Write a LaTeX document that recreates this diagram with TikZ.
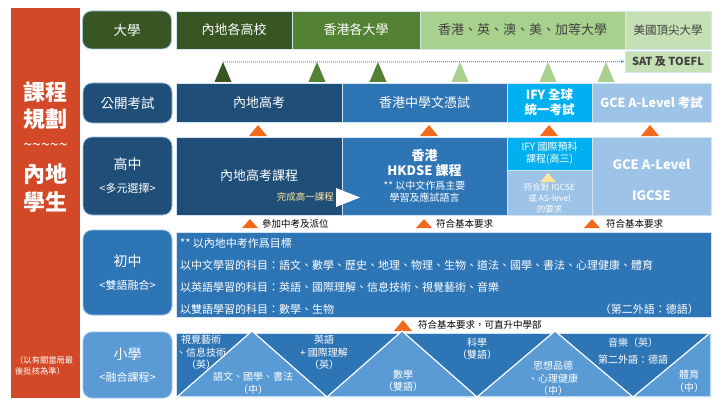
\documentclass[tikz,border=0pt]{standalone}
\usepackage{fontspec}
\setmainfont{Noto Sans CJK TC}
\usepackage{tikz}
\usetikzlibrary{arrows.meta}

\definecolor{redcol}{HTML}{D34826}
\definecolor{dkgreen}{HTML}{375623}
\definecolor{mdgreen}{HTML}{548235}
\definecolor{ltgreen}{HTML}{A9D18E}
\definecolor{palegreen}{HTML}{C5E0B4}
\definecolor{navy}{HTML}{1F4E79}
\definecolor{midblue}{HTML}{2E75B6}
\definecolor{ifycyan}{HTML}{00B0F0}
\definecolor{skyblue}{HTML}{9DC3E6}
\definecolor{primlight}{HTML}{5B9BD5}
\definecolor{markorange}{HTML}{F26B1D}
\definecolor{paleyellow}{HTML}{FFE699}
\definecolor{textgray}{HTML}{404040}

\newcommand{\fsz}[2]{\fontsize{#1}{#2}\selectfont}

\begin{document}
\begin{tikzpicture}[x=1pt, y=-1pt,
    cell/.style={inner sep=0pt, text=white, align=center, draw=white!55!skyblue, line width=0.5pt},
    rowlabel/.style={cell, rounded corners=9pt, draw=skyblue, line width=0.8pt,
                     minimum width=89, font=\fsz{14}{23}},
    celltext/.style={inner sep=0pt, text=white, align=center},
    note/.style={inner sep=0pt, anchor=west, text=black, font=\fsz{9.5}{11}},
    subject/.style={inner sep=0pt, anchor=west, text=white, font=\fsz{11}{13}},
    primtext/.style={inner sep=0pt, text=white, align=center, font=\fsz{10}{12.5}}]

    \useasboundingbox (0,0) rectangle (723,404);

    % side panel
    \node[fill=redcol, minimum width=69, minimum height=390, inner sep=0pt] (side) at (45.5,203) {};
    \node[celltext, font=\fsz{22}{27.5}\bfseries] (sidetop) at (45.5,105.5) {課程\\規劃};
    \node[celltext, font=\fsz{16}{18}] (sidewave) at (45.5,147) {\textasciitilde\textasciitilde\textasciitilde\textasciitilde\textasciitilde};
    \node[celltext, font=\fsz{22}{27.5}\bfseries] (sidebottom) at (45.5,188) {內地\\學生};
    \node[celltext, align=left, anchor=west, font=\fsz{8.3}{11}] (sidenote) at (15,365.5) {（以有關當局最\\後批核為準）};

    % row labels
    \node[rowlabel, fill=dkgreen, minimum height=38, font=\fsz{13.5}{16}] (lbuni) at (127,30) {大學};
    \node[rowlabel, fill=navy, minimum height=40, font=\fsz{13.5}{16}] (lbexam) at (127.5,103) {公開考試};
    \node[rowlabel, fill=navy, minimum height=78] (lbhs) at (127.5,176) {高中\\{\fsz{11}{13}<多元選擇>}};
    \node[rowlabel, fill=midblue, minimum height=85] (lbjr) at (127.5,272.5) {初中\\{\fsz{11}{13}<雙語融合>}};
    \node[rowlabel, fill=primlight, minimum height=66, font=\fsz{14}{22}] (lbpr) at (127.5,365) {小學\\{\fsz{11}{13}<融合課程>}};

    % universities
    \node[cell, fill=dkgreen, minimum width=116, minimum height=38, font=\fsz{13}{16}] (uniml) at (234,30) {內地各高校};
    \node[cell, fill=mdgreen, minimum width=128, minimum height=38, font=\fsz{13}{16}] (unihk) at (356,30) {香港各大學};
    \node[cell, fill=ltgreen, text=textgray, minimum width=205, minimum height=38, font=\fsz{13}{16}] (unios) at (522.5,30) {香港、英、澳、美、加等大學};
    \node[cell, fill=palegreen, text=textgray, minimum width=86, minimum height=38, font=\fsz{11.5}{14}] (unius) at (668,30) {美國頂尖大學};
    \node[cell, fill=palegreen, text=textgray, minimum width=86, minimum height=21, font=\fsz{11}{13}\bfseries] (sat) at (668,61.5) {SAT 及 TOEFL};

    \coordinate (dotstart) at (223,62);
    \draw[primlight, densely dotted, line width=1pt, -{Stealth[length=4pt]}] (dotstart) -- (sat.west);

    \foreach \x/\c in {223/dkgreen, 317/mdgreen, 378/mdgreen, 460/ltgreen, 548/ltgreen, 606/ltgreen}
        \fill[\c] (\x-8.5,82) -- (\x+8.5,82) -- (\x,62) -- cycle;

    % exams
    \node[cell, fill=navy, minimum width=166, minimum height=39, font=\fsz{13}{16}] (exml) at (259,102.5) {內地高考};
    \node[cell, fill=midblue, minimum width=165, minimum height=39, font=\fsz{13}{16}] (exhk) at (424.5,102.5) {香港中學文憑試};
    \node[cell, fill=ifycyan, minimum width=85, minimum height=39, font=\fsz{12.5}{15}\bfseries] (exify) at (549.5,102.5) {IFY 全球\\統一考試};
    \node[cell, fill=skyblue, minimum width=119, minimum height=39, font=\fsz{12.5}{15}\bfseries] (exgce) at (651.5,102.5) {GCE A-Level 考試};

    \foreach \x in {258, 429, 549, 650}
        \fill[markorange] (\x-9,136) -- (\x+9,136) -- (\x,125) -- cycle;

    % senior secondary
    \node[cell, fill=navy, minimum width=166, minimum height=78, font=\fsz{13}{16}] (hsml) at (259,176) {內地高考課程};
    \node[cell, fill=midblue, minimum width=165, minimum height=78] (hshk) at (424.5,176) {};
    \node[celltext, font=\fsz{13}{15}\bfseries] (hshktitle) at (424.5,163.5) {香港\\HKDSE 課程};
    \node[celltext, font=\fsz{10}{11.5}] (hshknote) at (424.5,191.5) {** 以中文作爲主要\\學習及應試語言};
    \node[celltext, anchor=east, text=paleyellow, font=\fsz{9.5}{11}] (hsmlnote) at (334,197) {完成高一課程};
    \fill[white] (336,188) -- (360,197.5) -- (336,207) -- cycle;

    \node[cell, fill=ifycyan, minimum width=85, minimum height=33, font=\fsz{10}{12}] (hsify) at (549.5,153.5) {IFY 國際預科\\課程(高三)};
    \node[cell, fill=skyblue, minimum width=85, minimum height=45] (hsreq) at (549.5,192.5) {};
    \fill[paleyellow] (540,182) -- (556,182) -- (548,173) -- cycle;
    \node[celltext, font=\fsz{8.5}{11}] (hsreqtext) at (549.5,198) {符合對 IGCSE\\或 AS-level\\的要求};
    \node[cell, fill=skyblue, minimum width=119, minimum height=78] (hsgce) at (651.5,176) {};
    \node[celltext, font=\fsz{13}{31}\bfseries] (hsgcetext) at (651.5,179.5) {GCE A-Level\\IGCSE};

    \foreach \x in {250, 424, 592}
        \fill[markorange] (\x-8,228) -- (\x+8,228) -- (\x,219) -- cycle;
    \node[note] (notezk) at (262,224) {參加中考及派位};
    \node[note] (notebasic) at (436,224) {符合基本要求};
    \node[note] (notebasicb) at (606,224) {符合基本要求};

    % junior secondary
    \node[cell, fill=midblue, minimum width=535, minimum height=85] (jr) at (443.5,274.5) {};
    \node[subject] (jrgoal) at (180,243) {** 以內地中考作爲目標};
    \node[subject] (jrcn) at (180,265.5) {以中文學習的科目：語文、數學、歷史、地理、物理、生物、道法、國學、書法、心理健康、體育};
    \node[subject] (jren) at (180,287.5) {以英語學習的科目：英語、國際理解、信息技術、視覺藝術、音樂};
    \node[subject] (jrbi) at (180,309) {以雙語學習的科目：數學、生物};
    \node[subject, anchor=east] (jrlang) at (699,309) {（第二外語：德語）};

    \fill[markorange] (394,331) -- (412,331) -- (403,320) -- cycle;
    \node[note] (notedirect) at (418,325) {符合基本要求，可直升中學部};

    % primary
    \node[cell, fill=midblue, minimum width=535, minimum height=64] (pr) at (443.5,365) {};
    \filldraw[primlight, draw=white, line width=1.2pt] (177,397) -- (252,331) -- (327,397) -- cycle;
    \filldraw[primlight, draw=white, line width=1.2pt] (327,397) -- (402,331) -- (477,397) -- cycle;
    \filldraw[primlight, draw=white, line width=1.2pt] (477,397) -- (555,331) -- (633,397) -- cycle;
    \filldraw[primlight, draw=white, line width=1.2pt] (633,397) -- (710,333) -- (711,333) -- (711,397) -- cycle;

    \node[primtext] (prart) at (201,352.5) {視覺藝術\\、信息技術\\（英）};
    \node[primtext] (prchn) at (253,383) {語文、國學、書法\\（中）};
    \node[primtext] (preng) at (324,352.5) {英語\\+ 國際理解\\（英）};
    \node[primtext] (prmath) at (403,381) {數學\\（雙語）};
    \node[primtext] (prsci) at (477,349) {科學\\（雙語）};
    \node[primtext] (prmoral) at (553,378.5) {思想品德\\、心理健康\\（中）};
    \node[primtext, font=\fsz{10}{17}] (prmusic) at (633,351) {音樂（英）\\第二外語：德語};
    \node[primtext] (prpe) at (689,381) {體育\\（中）};
\end{tikzpicture}
\end{document}
